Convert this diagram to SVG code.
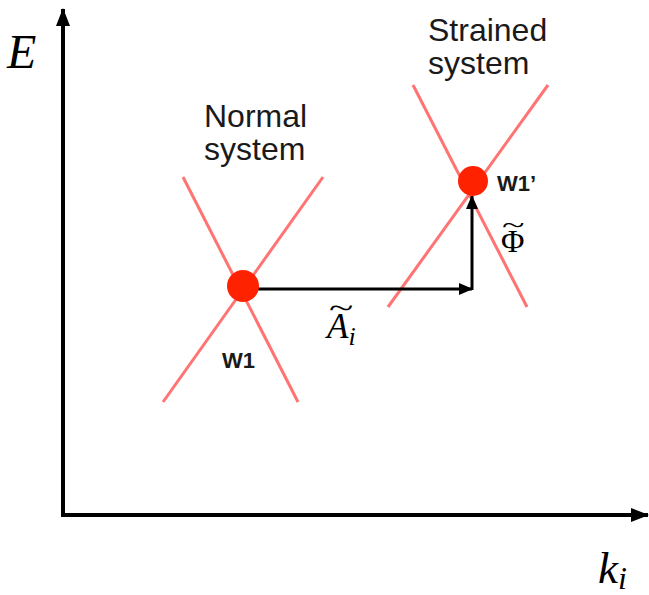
<svg xmlns="http://www.w3.org/2000/svg" width="649" height="595" viewBox="0 0 649 595">
<defs>
<marker id="axh" markerWidth="18" markerHeight="14" refX="17" refY="7" orient="auto" markerUnits="userSpaceOnUse">
<path d="M0,0 L18,7 L0,14 Z" fill="#000"/>
</marker>
<marker id="ah" markerWidth="14" markerHeight="12" refX="13" refY="6" orient="auto" markerUnits="userSpaceOnUse">
<path d="M0,0 L14,6 L0,12 Z" fill="#000"/>
</marker>
</defs>
<style>
.band{stroke:#ff5a5a;stroke-width:3;opacity:0.85;fill:none}
.dot{fill:#ff2200}
.axis{stroke:#000;stroke-width:4;fill:none}
.vec{stroke:#000;stroke-width:3;fill:none}
.lbl{font-family:"Liberation Sans",Arial,sans-serif;font-size:32px;fill:#1a1a1a}
.wl{font-family:"Liberation Sans",Arial,sans-serif;font-size:22px;font-weight:bold;fill:#1a1a1a}
.math{font-family:"Liberation Serif","Times New Roman",serif;fill:#000}
.it{font-style:italic}
</style>
<rect width="649" height="595" fill="#fff"/>
<g id="axes">
<line class="axis" x1="63" y1="517" x2="63" y2="9" marker-end="url(#axh)"/>
<line class="axis" x1="61" y1="515" x2="648" y2="515" marker-end="url(#axh)"/>
<text class="math it" x="7" y="68" font-size="48">E</text>
<text class="math it" x="598" y="583" font-size="45">k<tspan font-size="32" dy="6">i</tspan></text>
</g>
<g id="normal">
<line class="band" x1="183" y1="177" x2="298" y2="402"/>
<line class="band" x1="323" y1="177" x2="163" y2="402"/>
<text class="lbl" x="204" y="127">Normal</text>
<text class="lbl" x="204" y="160">system</text>
</g>
<g id="strained">
<line class="band" x1="413" y1="85" x2="527" y2="307"/>
<line class="band" x1="548" y1="85" x2="388" y2="307"/>
<text class="lbl" x="428" y="41">Strained</text>
<text class="lbl" x="428" y="74">system</text>
</g>
<g id="connectors">
<line class="vec" x1="258" y1="289" x2="472" y2="289" marker-end="url(#ah)"/>
<line class="vec" x1="472" y1="290" x2="472" y2="196" marker-end="url(#ah)"/>
</g>
<g id="W1">
<circle class="dot" cx="243" cy="286" r="16"/>
<text class="wl" x="222" y="368">W1</text>
</g>
<g id="W1p">
<circle class="dot" cx="473" cy="181" r="15"/>
<text class="wl" x="497" y="191">W1’</text>
</g>
<g id="labelA">
<text class="math it" x="327" y="338" font-size="35">A<tspan font-size="26" dy="7">i</tspan></text>
<text class="math" x="0" y="0" font-size="30" transform="translate(329,318) scale(1.5,1)">~</text>
</g>
<g id="labelPhi">
<text class="math" x="501" y="252" font-size="32">Φ</text>
<text class="math" x="0" y="0" font-size="26" transform="translate(502,233) scale(1.6,1)">~</text>
</g>
</svg>
